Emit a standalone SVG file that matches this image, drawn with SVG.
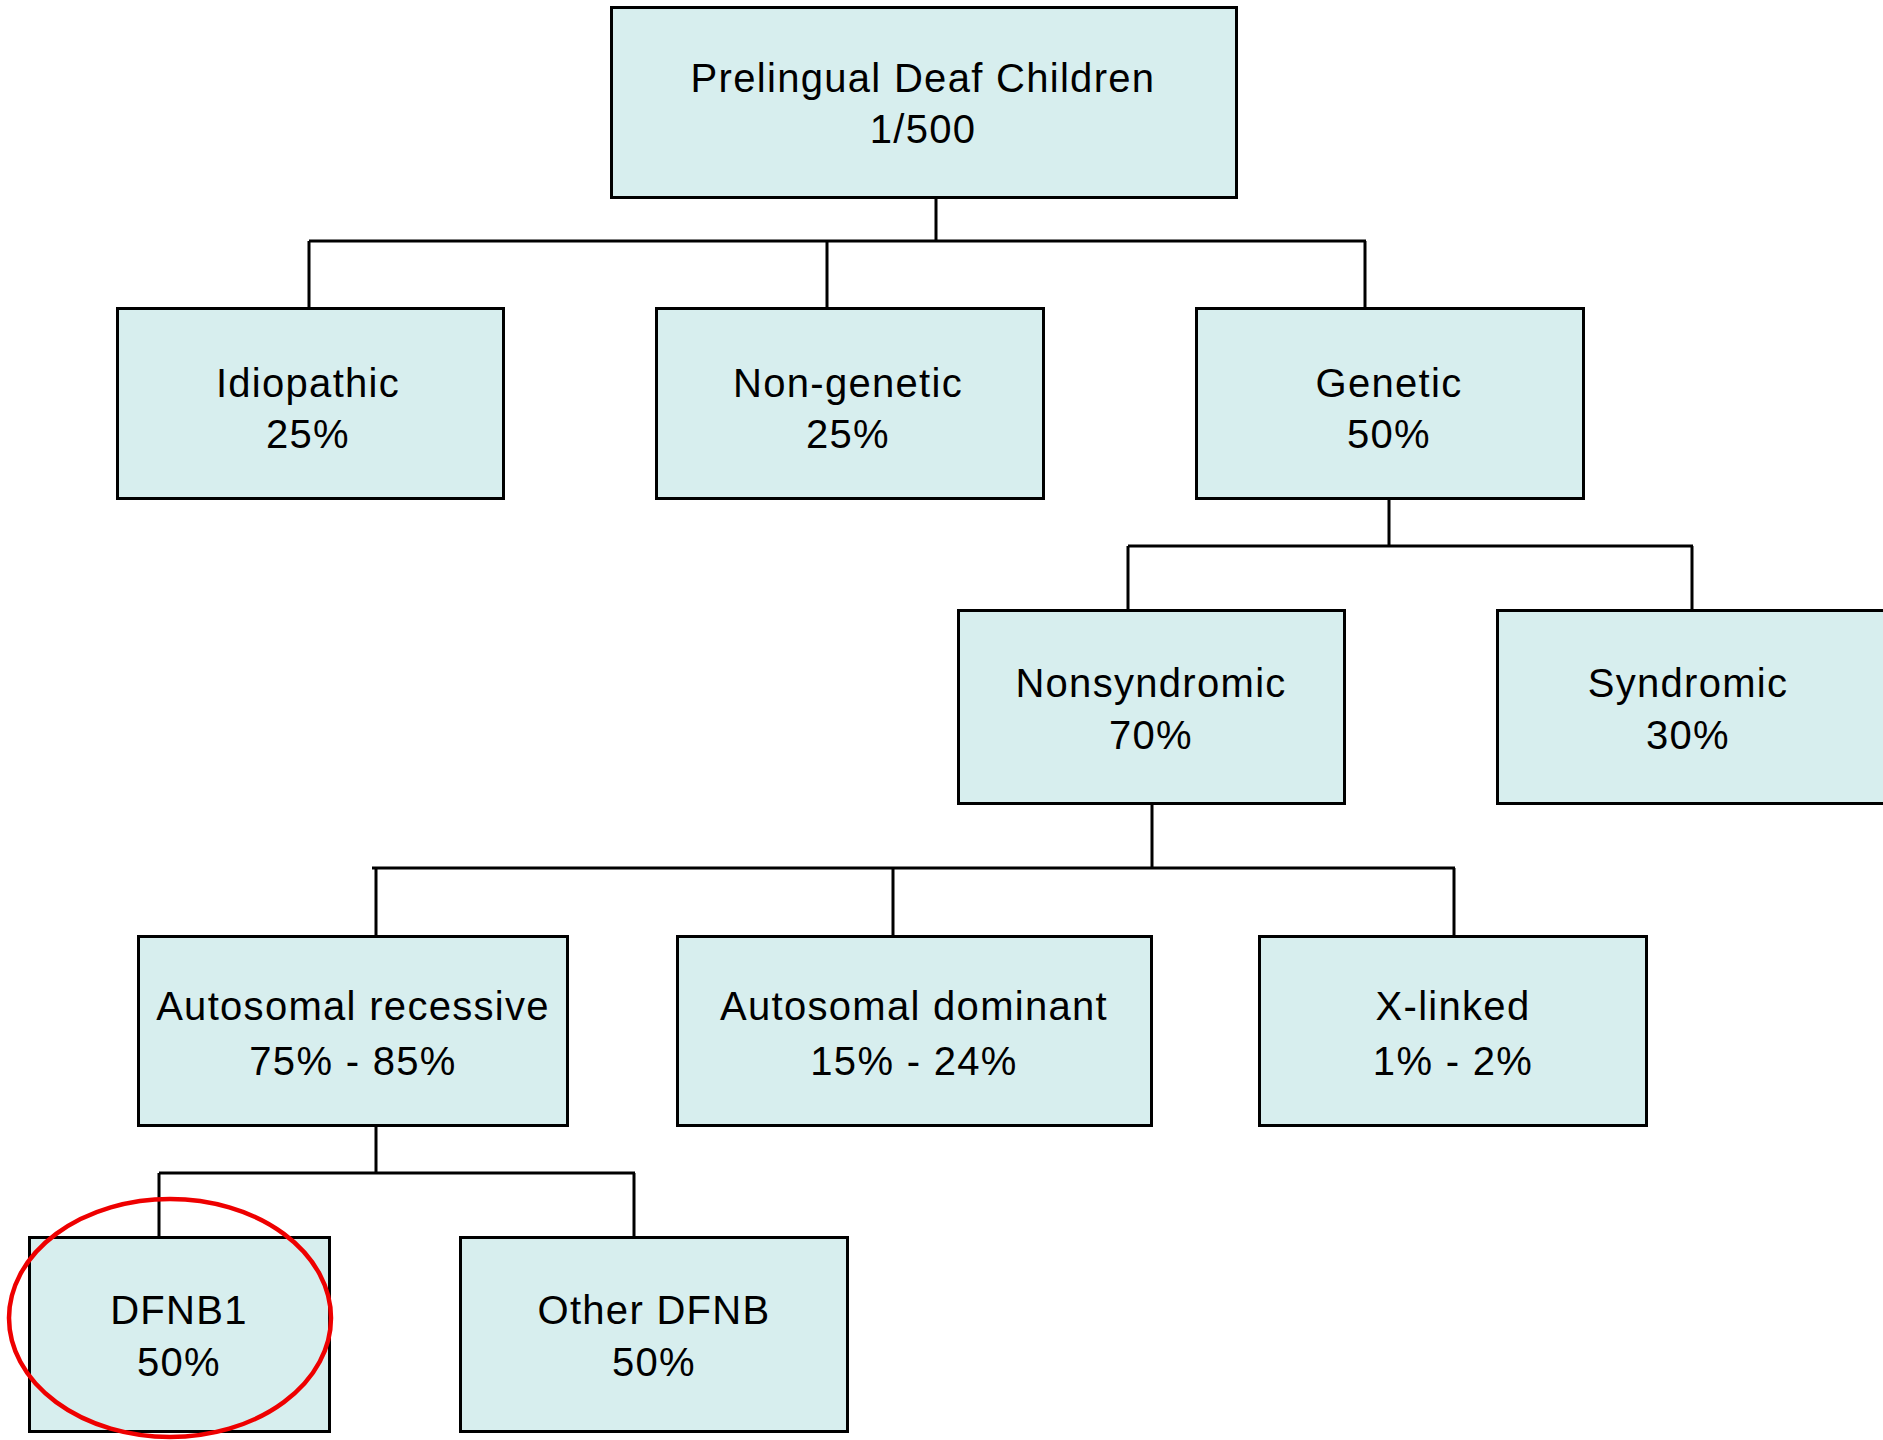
<svg xmlns="http://www.w3.org/2000/svg" width="1883" height="1440" viewBox="0 0 1883 1440">
  <style>
    .box rect { fill: #d7eeee; stroke: #000; stroke-width: 3; }
    .box text { font-family: "Liberation Sans", Arial, sans-serif; font-size: 40px; letter-spacing: 1.3px; fill: #000; text-anchor: middle; }
    #connectors path { fill: none; stroke: #000; stroke-width: 3; }
    .mark { fill: none; stroke: #ee0000; stroke-width: 4.5; }
  </style>

  <!-- tree connectors -->
  <g id="connectors">
    <path d="M936 199 V241 M309 241 H1366 M309 241 V307 M827 241 V307 M1365 241 V307"/>
    <path d="M1389 500 V546 M1128 546 H1693 M1128 546 V609 M1692 546 V609"/>
    <path d="M1152 805 V868 M372 868 H1455 M376 868 V935 M893 868 V935 M1454 868 V935"/>
    <path d="M376 1127 V1173 M159 1173 H635 M159 1173 V1236 M634 1173 V1236"/>
  </g>

  <g id="root" class="box">
    <rect x="611.5" y="7.5" width="625" height="190"/>
    <text x="923" y="92">Prelingual Deaf Children</text>
    <text x="923" y="143">1/500</text>
  </g>

  <g id="idiopathic" class="box">
    <rect x="117.5" y="308.5" width="386" height="190"/>
    <text x="308" y="397">Idiopathic</text>
    <text x="308" y="448">25%</text>
  </g>

  <g id="non-genetic" class="box">
    <rect x="656.5" y="308.5" width="387" height="190"/>
    <text x="848" y="397">Non-genetic</text>
    <text x="848" y="448">25%</text>
  </g>

  <g id="genetic" class="box">
    <rect x="1196.5" y="308.5" width="387" height="190"/>
    <text x="1389" y="397">Genetic</text>
    <text x="1389" y="448">50%</text>
  </g>

  <g id="nonsyndromic" class="box">
    <rect x="958.5" y="610.5" width="386" height="193"/>
    <text x="1151" y="697">Nonsyndromic</text>
    <text x="1151" y="749">70%</text>
  </g>

  <g id="syndromic" class="box">
    <rect x="1497.5" y="610.5" width="400" height="193"/>
    <text x="1688" y="697">Syndromic</text>
    <text x="1688" y="749">30%</text>
  </g>

  <g id="autosomal-recessive" class="box">
    <rect x="138.5" y="936.5" width="429" height="189"/>
    <text x="353" y="1020">Autosomal recessive</text>
    <text x="353" y="1075">75% - 85%</text>
  </g>

  <g id="autosomal-dominant" class="box">
    <rect x="677.5" y="936.5" width="474" height="189"/>
    <text x="914" y="1020">Autosomal dominant</text>
    <text x="914" y="1075">15% - 24%</text>
  </g>

  <g id="x-linked" class="box">
    <rect x="1259.5" y="936.5" width="387" height="189"/>
    <text x="1453" y="1020">X-linked</text>
    <text x="1453" y="1075">1% - 2%</text>
  </g>

  <g id="dfnb1" class="box">
    <rect x="29.5" y="1237.5" width="300" height="194"/>
    <text x="179" y="1324">DFNB1</text>
    <text x="179" y="1376">50%</text>
  </g>

  <g id="other-dfnb" class="box">
    <rect x="460.5" y="1237.5" width="387" height="194"/>
    <text x="654" y="1324">Other DFNB</text>
    <text x="654" y="1376">50%</text>
  </g>

  <!-- highlight ring around DFNB1 -->
  <ellipse class="mark" cx="170" cy="1318" rx="161" ry="119"/>
</svg>
